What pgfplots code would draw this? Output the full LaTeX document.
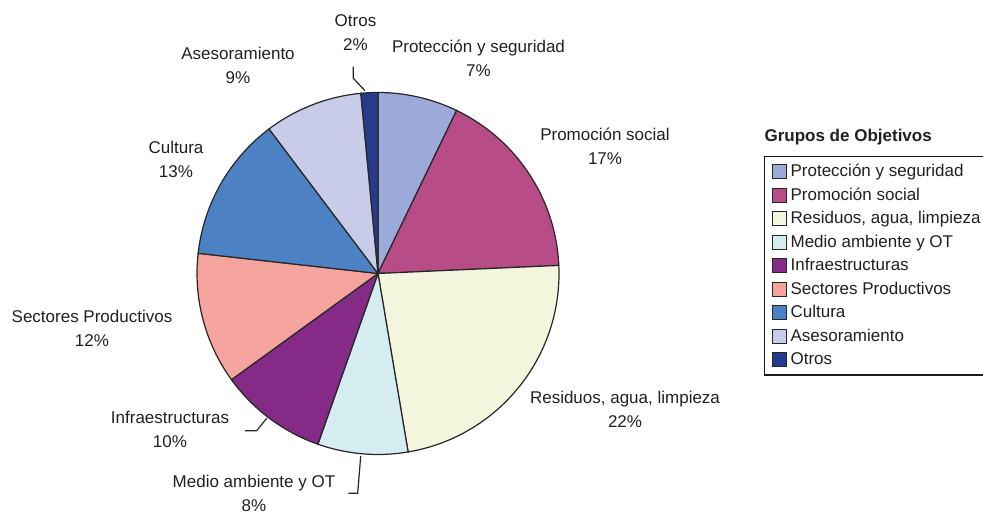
\documentclass[border=0pt]{standalone}
\usepackage{fontspec}
\setmainfont{Liberation Sans}
\usepackage{pgfplots}
\usepackage{pgfplotstable}
\pgfplotsset{compat=1.18}

\definecolor{cProt}{HTML}{9BAAD8}
\definecolor{cProm}{HTML}{B84C87}
\definecolor{cResi}{HTML}{F3F5DC}
\definecolor{cMedi}{HTML}{D5ECF1}
\definecolor{cInfr}{HTML}{862A87}
\definecolor{cSect}{HTML}{F4A39D}
\definecolor{cCult}{HTML}{4C82C3}
\definecolor{cAses}{HTML}{C8CCE8}
\definecolor{cOtro}{HTML}{263B8C}
\definecolor{txt}{HTML}{231F20}

% share of each group, in percent, clockwise from 12 o'clock
\pgfplotstableread{
val   col
7.15  cProt
17.14 cProm
23.05 cResi
8.05  cMedi
9.63  cInfr
11.76 cSect
12.94 cCult
8.77  cAses
1.51  cOtro
}\piedata

\def\R{90.5pt}

\begin{document}
\begin{tikzpicture}[font=\fontsize{8.5}{12}\selectfont, text=txt]
\begin{axis}[
    x=0.5pt, y=0.5pt,
    xmin=0, xmax=983, ymin=0, ymax=512,
    hide axis, clip=false,
    legend cell align=left,
    legend entries={Protección y seguridad, Promoción social, {Residuos, agua, limpieza},
        Medio ambiente y OT, Infraestructuras, Sectores Productivos, Cultura,
        Asesoramiento, Otros},
    legend image code/.code={\draw[#1, draw=black!85, line width=0.5pt] (0pt,-3.4pt) rectangle (7pt,3.4pt);},
    legend style={at={(axis cs:764,356)}, anchor=north west, draw=black!90, line width=0.6pt,
        inner xsep=3.5pt, inner ysep=3.2pt, row sep=2.95pt,
        font=\fontsize{8.5}{12}\selectfont, text=txt,
        nodes={inner sep=0pt, text height=7pt, text depth=1.8pt},
        /tikz/every odd column/.append style={column sep=2pt}},
]
\pgfplotstablegetrowsof{\piedata}
\pgfmathtruncatemacro\nlast{\pgfplotsretval-1}
\def\cum{0}
\pgfplotsforeachungrouped \i in {0,...,\nlast}{
    \pgfplotstablegetelem{\i}{val}\of\piedata \let\val\pgfplotsretval
    \pgfplotstablegetelem{\i}{col}\of\piedata \let\col\pgfplotsretval
    \pgfmathsetmacro\sa{90-3.6*\cum}
    \pgfmathsetmacro\ea{90-3.6*(\cum+\val)}
    \edef\temp{\noexpand\filldraw[fill=\col, draw=black!85, line width=0.6pt]
        (axis cs:378,238.5) -- ++(\sa:\R) arc[start angle=\sa, end angle=\ea, radius=\R] -- cycle;
        \noexpand\addlegendimage{fill=\col}}
    \temp
    \pgfmathsetmacro\cum{\cum+\val}
}

% labels
\node[align=center] at (axis cs:355.5,479) {Otros\\2\%};
\node[align=center] at (axis cs:478.5,454) {Protección y seguridad\\7\%};
\node[align=center] at (axis cs:605,366) {Promoción social\\17\%};
\node[align=center] at (axis cs:625,103) {Residuos, agua, limpieza\\22\%};
\node[align=center] at (axis cs:254,19) {Medio ambiente y OT\\8\%};
\node[align=center] at (axis cs:170,82.5) {Infraestructuras\\10\%};
\node[align=center] at (axis cs:92,184) {Sectores Productivos\\12\%};
\node[align=center] at (axis cs:176,353) {Cultura\\13\%};
\node[align=center] at (axis cs:238,446.5) {Asesoramiento\\9\%};

% leader lines
\draw[black!85, line width=0.6pt] (axis cs:353.3,445.3) -- (axis cs:353.3,433.7) -- (axis cs:365,421.3);
\draw[black!85, line width=0.6pt] (axis cs:245,81.3) -- (axis cs:256.7,81.3) -- (axis cs:266.7,93.7);
\draw[black!85, line width=0.6pt] (axis cs:348.3,18.7) -- (axis cs:357.7,18.7) -- (axis cs:360.7,56);

\node[anchor=west, font=\fontsize{8.5}{12}\selectfont\bfseries] at (axis cs:757.5,375) {Grupos de Objetivos};
\end{axis}
\pgfresetboundingbox
\path (0,0) rectangle (491.5pt,256pt);
\end{tikzpicture}
\end{document}
